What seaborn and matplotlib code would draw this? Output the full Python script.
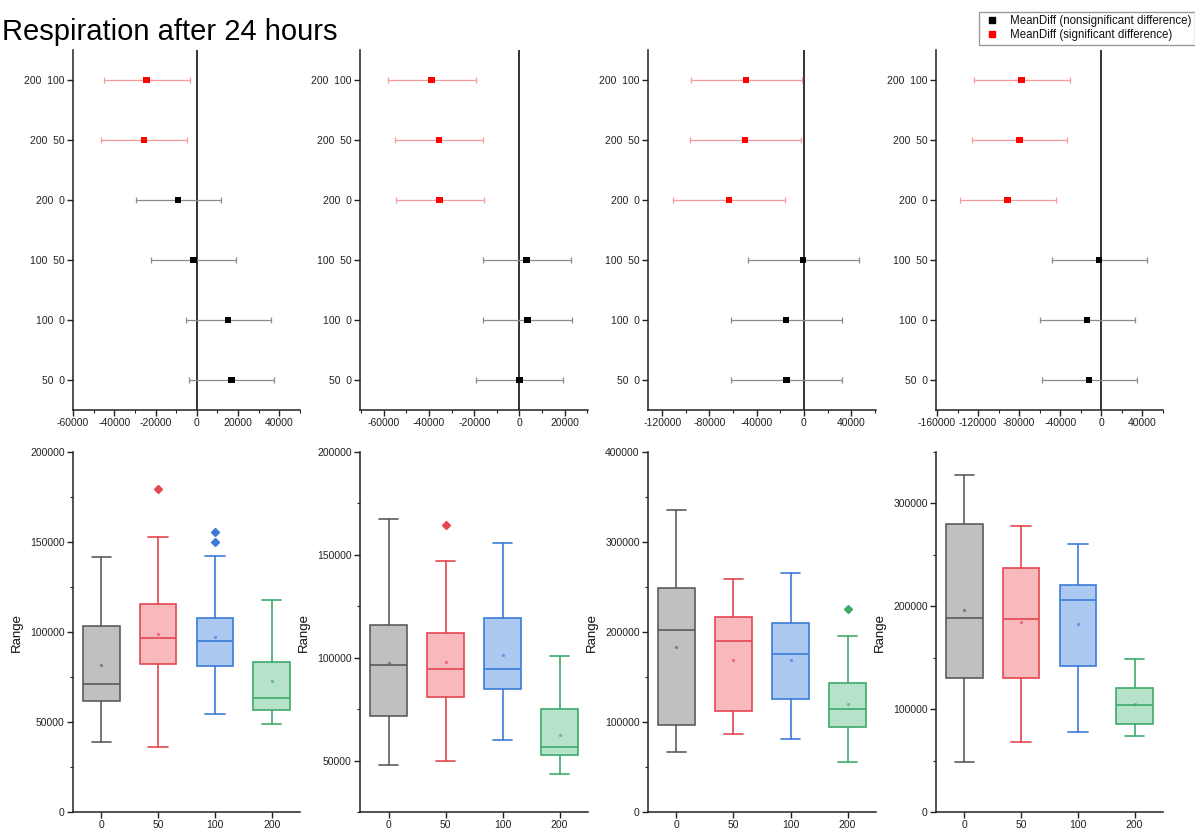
import numpy as np
import pandas as pd
import seaborn as sns
import matplotlib
matplotlib.use("Agg")
import matplotlib.pyplot as plt
from matplotlib.lines import Line2D
from matplotlib.ticker import MultipleLocator, AutoMinorLocator

# ---- top row: Tukey mean differences with confidence intervals ----
comparisons = ["200  100", "200  50", "200  0", "100  50", "100  0", "50  0"]

diff_a = [-24300, -25700, -9100, -1500, 15200, 16700]
low_a = [-44800, -46300, -29400, -22000, -5400, -3900]
high_a = [-3500, -5000, 11900, 19000, 35900, 37400]
sig_a = [True, True, False, False, False, False]

diff_b = [-38800, -35600, -35300, 3200, 3600, 0]
low_b = [-58100, -55100, -54700, -16100, -15900, -19200]
high_b = [-19200, -15900, -15600, 22900, 23100, 19300]
sig_b = [True, True, True, False, False, False]

diff_c = [-49000, -49700, -63500, -600, -15200, -14800]
low_c = [-95800, -96800, -111000, -47400, -61900, -61600]
high_c = [-1900, -2600, -16100, 46500, 32300, 32300]
sig_c = [True, True, True, False, False, False]

diff_d = [-77800, -79600, -91500, -2200, -14100, -11900]
low_d = [-123700, -125900, -137800, -48500, -60000, -58100]
high_d = [-30400, -33000, -44400, 44800, 33000, 34800]
sig_d = [True, True, True, False, False, False]

# ---- bottom row: box plot summaries per dose ----
doses = ["0", "50", "100", "200"]

whislo_a = [38800, 36000, 54400, 49000]
q1_a = [61600, 82400, 80900, 56400]
med_a = [70900, 96800, 94800, 63300]
q3_a = [103500, 115400, 107600, 83100]
whishi_a = [141600, 152700, 142500, 117600]
mean_a = [81600, 98700, 97000, 72700]
fliers_a = [[], [179600], [155500, 150100], []]

whislo_b = [47700, 49800, 60200, 43500]
q1_b = [71900, 80700, 84700, 52800]
med_b = [96400, 94500, 94500, 56500]
q3_b = [115700, 111900, 119300, 75000]
whishi_b = [167500, 146800, 155800, 101000]
mean_b = [97400, 97900, 101100, 62500]
fliers_b = [[], [164400], [], []]

whislo_c = [66800, 86800, 81300, 55300]
q1_c = [97200, 112400, 125800, 93900]
med_c = [202200, 189600, 175100, 114700]
q3_c = [248600, 216300, 209600, 143600]
whishi_c = [335000, 259400, 265300, 195200]
mean_c = [182900, 168800, 168800, 120200]
fliers_c = [[], [], [], [225200]]

whislo_d = [48700, 68500, 77600, 73700]
q1_d = [130200, 130200, 141600, 85700]
med_d = [189000, 187700, 205800, 104500]
q3_d = [279900, 237700, 220500, 120800]
whishi_d = [327600, 277900, 261000, 148700]
mean_d = [196100, 184400, 182500, 105200]
fliers_d = [[], [], [], []]

face_colors = ["#c0c0c0", "#f8b9bc", "#adc9f1", "#b6e2c9"]
edge_colors = ["#5c5c5c", "#e5474f", "#3b7bd8", "#3daa6b"]

sns.set_style("ticks")
plt.rcParams["font.family"] = ["Liberation Sans", "DejaVu Sans"]
plt.rcParams["axes.unicode_minus"] = False
plt.rcParams["text.color"] = "#111111"
plt.rcParams["axes.labelcolor"] = "#111111"

fig = plt.figure(figsize=(11.95, 8.30), dpi=100)
W, H = 1195.0, 830.0

# axes boxes in pixels: (left, right)
cols = [(73, 300), (360, 588), (648, 876), (936, 1163)]
top_rows = (50, 410)
bot_rows = (452, 812)


def px_axes(left, right, top, bottom):
    return fig.add_axes([left / W, 1 - bottom / H, (right - left) / W, (bottom - top) / H])


def style_axis(ax):
    sns.despine(ax=ax)
    for s in ["left", "bottom"]:
        ax.spines[s].set_linewidth(1.1)
        ax.spines[s].set_color("#222222")
    ax.tick_params(which="major", direction="out", length=4, width=1, labelsize=7.5,
                   colors="#222222", pad=2)
    ax.tick_params(which="minor", direction="out", length=2.5, width=0.8, colors="#222222")


def plot_meandiff(ax, diff, low, high, sig, xlim, step):
    df = pd.DataFrame({"diff": diff, "low": low, "high": high, "sig": sig,
                       "pos": np.arange(len(comparisons))})
    for flag, ecol in [(True, "#f49a9a"), (False, "#8c8c8c")]:
        sub = df[df["sig"] == flag]
        ax.errorbar(sub["diff"], sub["pos"],
                    xerr=[sub["diff"] - sub["low"], sub["high"] - sub["diff"]],
                    fmt="none", ecolor=ecol, elinewidth=0.9, capsize=2.5, capthick=0.9, zorder=2)
    sns.scatterplot(data=df, x="diff", y="pos", hue="sig",
                    palette={True: "#ff0000", False: "#000000"}, marker="s", s=22,
                    linewidth=0, legend=False, zorder=3, ax=ax)
    ax.axvline(0, color="#111111", lw=1.2, zorder=1)
    ax.set_xlim(*xlim)
    ax.set_ylim(len(comparisons) - 0.5, -0.5)
    ax.set_yticks(np.arange(len(comparisons)))
    ax.set_yticklabels(comparisons)
    ax.xaxis.set_major_locator(MultipleLocator(step))
    ax.xaxis.set_minor_locator(AutoMinorLocator(2))
    ax.set_xlabel("")
    ax.set_ylabel("")
    style_axis(ax)


def plot_box(ax, whislo, q1, med, q3, whishi, mean, fliers, ylim, step):
    stats = []
    for i in range(len(doses)):
        stats.append({"whislo": whislo[i], "q1": q1[i], "med": med[i], "q3": q3[i],
                      "whishi": whishi[i], "mean": mean[i], "fliers": fliers[i],
                      "label": doses[i]})
    art = ax.bxp(stats, positions=np.arange(len(doses)), widths=0.64, capwidths=0.34,
                 patch_artist=True, showmeans=True, showfliers=True)
    for i in range(len(doses)):
        ec = edge_colors[i]
        art["boxes"][i].set_facecolor(face_colors[i])
        art["boxes"][i].set_edgecolor(ec)
        art["boxes"][i].set_linewidth(1.2)
        art["medians"][i].set_color(ec)
        art["medians"][i].set_linewidth(1.2)
        for ln in art["whiskers"][2 * i:2 * i + 2] + art["caps"][2 * i:2 * i + 2]:
            ln.set_color(ec)
            ln.set_linewidth(1.2)
        art["means"][i].set(marker="o", markersize=1.5, markerfacecolor=ec,
                            markeredgecolor=ec, alpha=0.5)
        art["fliers"][i].set(marker="D", markersize=4, markerfacecolor=ec,
                             markeredgecolor=ec)
    ax.set_xlim(-0.5, len(doses) - 0.5)
    ax.set_ylim(*ylim)
    ax.yaxis.set_major_locator(MultipleLocator(step))
    ax.yaxis.set_minor_locator(AutoMinorLocator(2))
    ax.set_xticks(np.arange(len(doses)))
    ax.set_xticklabels(doses)
    ax.set_ylabel("Range", fontsize=9.5, labelpad=5)
    style_axis(ax)


top_data = [
    (diff_a, low_a, high_a, sig_a, (-60000, 50000), 20000),
    (diff_b, low_b, high_b, sig_b, (-70500, 30300), 20000),
    (diff_c, low_c, high_c, sig_c, (-132000, 61000), 40000),
    (diff_d, low_d, high_d, sig_d, (-161000, 60000), 40000),
]
bot_data = [
    (whislo_a, q1_a, med_a, q3_a, whishi_a, mean_a, fliers_a, (0, 200000), 50000),
    (whislo_b, q1_b, med_b, q3_b, whishi_b, mean_b, fliers_b, (25000, 200000), 50000),
    (whislo_c, q1_c, med_c, q3_c, whishi_c, mean_c, fliers_c, (0, 400000), 100000),
    (whislo_d, q1_d, med_d, q3_d, whishi_d, mean_d, fliers_d, (0, 350000), 100000),
]

for (l, r), td, bd in zip(cols, top_data, bot_data):
    ax_t = px_axes(l, r, *top_rows)
    plot_meandiff(ax_t, *td)
    ax_b = px_axes(l, r, *bot_rows)
    plot_box(ax_b, *bd)

fig.text(0.002, 1 - 40 / H, "Respiration after 24 hours", fontsize=21, va="baseline",
         ha="left", color="#000000")

handles = [
    Line2D([], [], marker="s", linestyle="none", color="#000000", markersize=4),
    Line2D([], [], marker="s", linestyle="none", color="#ff0000", markersize=4),
]
fig.legend(handles, ["MeanDiff (nonsignificant difference)", "MeanDiff (significant difference)"],
           loc="upper right", bbox_to_anchor=(1.0, 1 - 12 / H), fontsize=8.3,
           frameon=True, fancybox=False, edgecolor="#9a9a9a", framealpha=1,
           handlelength=1.6, handletextpad=0.8, borderpad=0.3, labelspacing=0.15,
           borderaxespad=0)

fig.savefig("out.png", dpi=100)
